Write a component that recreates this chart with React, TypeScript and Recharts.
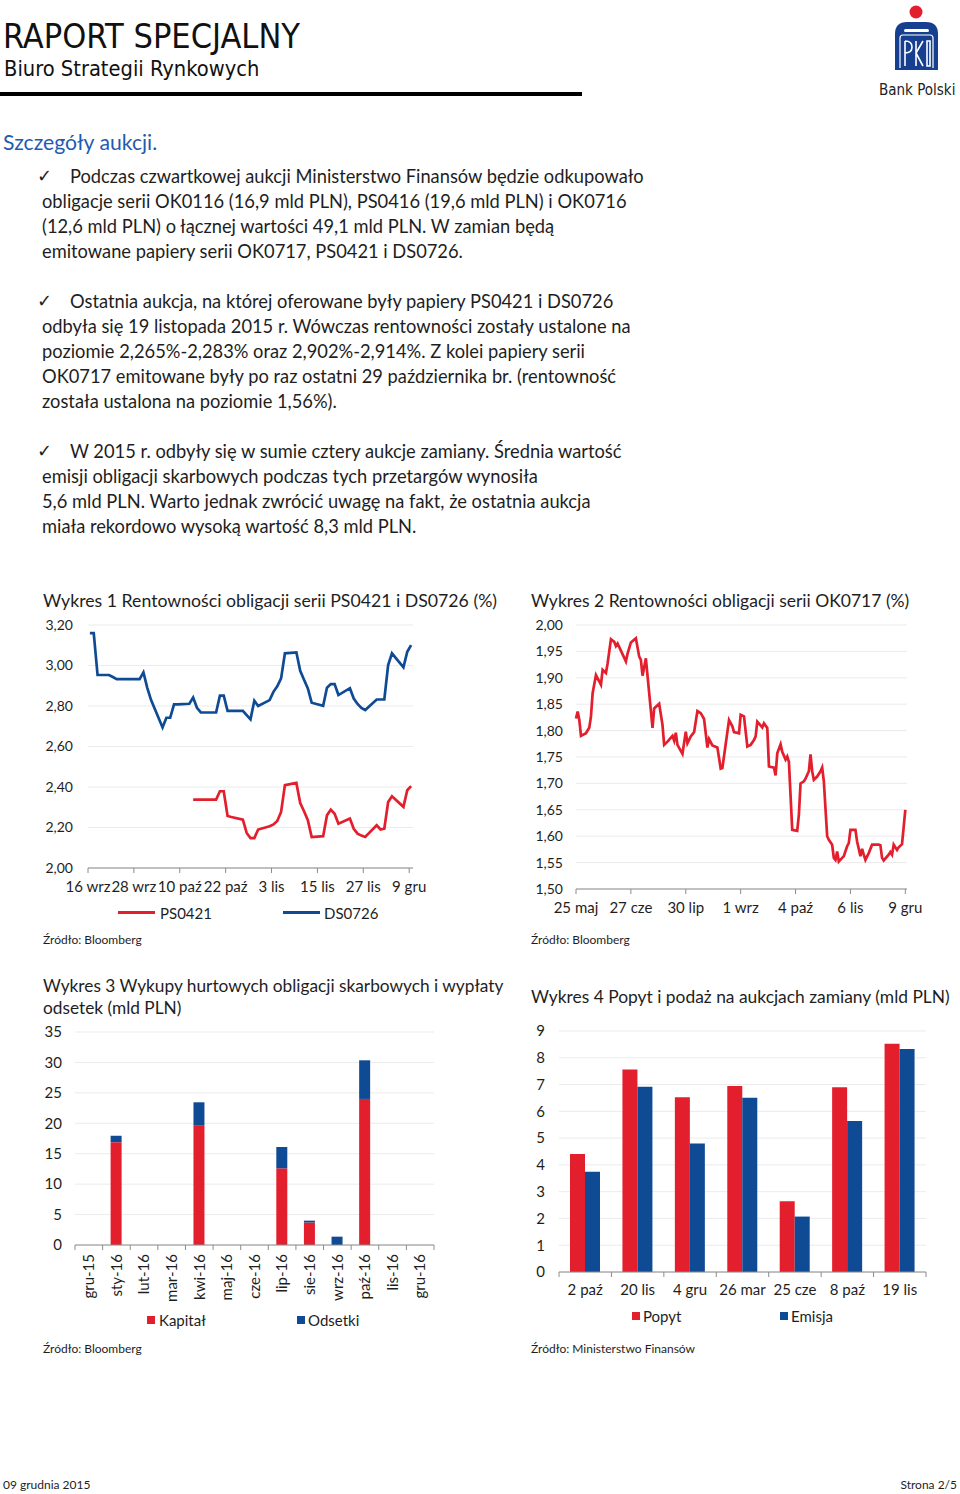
import React from 'react';
import { LineChart, Line, XAxis, YAxis, CartesianGrid, BarChart, Bar } from 'recharts';

const RED = '#e31e2d';
const BLUE = '#0f4b94';
const GRID = '#ebebeb';
const AXIS = '#8c8c8c';
const TXT = '#1e1e1e';
const FONT = 'Lato, "Noto Sans", sans-serif';
const NARROW = '"Liberation Sans Narrow", "DejaVu Sans Condensed", sans-serif';

// ---------- Wykres 1 ----------
const ch1Ticks = [0, 12, 24, 36, 48, 60, 72, 84];
const ch1TickLabels = ['16 wrz', '28 wrz', '10 paź', '22 paź', '3 lis', '15 lis', '27 lis', '9 gru'];
const ch1YTicks = [2.0, 2.2, 2.4, 2.6, 2.8, 3.0, 3.2];
const ch1Days = [0, 1, 2, 5, 6, 7, 8, 9, 12, 13, 14, 15, 16, 19, 20, 21, 22, 23, 26, 27, 28, 29, 30, 33, 34, 35, 36, 37, 40, 41, 42, 43, 44, 47, 48, 49, 50, 51, 54, 55, 56, 57, 58, 61, 62, 63, 64, 65, 68, 69, 70, 71, 72, 75, 76, 77, 78, 79, 82, 83, 84];
const ch1DS0726 = [3.16, 3.16, 2.953, 2.953, 2.943, 2.933, 2.933, 2.933, 2.933, 2.933, 2.966, 2.89, 2.829, 2.694, 2.742, 2.742, 2.808, 2.808, 2.811, 2.842, 2.791, 2.768, 2.768, 2.768, 2.851, 2.851, 2.776, 2.776, 2.776, 2.755, 2.734, 2.826, 2.8, 2.829, 2.87, 2.897, 2.936, 3.06, 3.065, 2.974, 2.93, 2.887, 2.816, 2.801, 2.89, 2.908, 2.908, 2.854, 2.888, 2.837, 2.81, 2.79, 2.78, 2.832, 2.832, 2.832, 3.002, 3.06, 2.991, 3.068, 3.101];
const ch1PS0421 = [null, null, null, null, null, null, null, null, null, null, null, null, null, null, null, null, null, null, null, 2.338, 2.338, 2.338, 2.338, 2.338, 2.379, 2.379, 2.257, 2.252, 2.239, 2.173, 2.148, 2.148, 2.19, 2.206, 2.215, 2.232, 2.277, 2.409, 2.42, 2.321, 2.28, 2.236, 2.153, 2.157, 2.26, 2.288, 2.268, 2.219, 2.244, 2.194, 2.17, 2.16, 2.153, 2.211, 2.19, 2.194, 2.326, 2.354, 2.302, 2.384, 2.404];

// ---------- Wykres 2 ----------
const ch2Ticks = [0, 33, 66, 99, 132, 165, 198];
const ch2TickLabels = ['25 maj', '27 cze', '30 lip', '1 wrz', '4 paź', '6 lis', '9 gru'];
const ch2YTicks = [1.5, 1.55, 1.6, 1.65, 1.7, 1.75, 1.8, 1.85, 1.9, 1.95, 2.0];
const ch2Days = [0, 1, 2, 3, 6, 8, 9, 10, 12, 15, 16, 18, 19, 21, 23, 24, 25, 30, 31, 33, 36, 38, 39, 40, 42, 46, 47, 50, 52, 53, 55, 58, 59, 60, 61, 64, 66, 67, 69, 71, 73, 75, 77, 79, 80, 82, 85, 87, 88, 92, 94, 95, 98, 99, 101, 103, 105, 107, 108, 109, 112, 113, 115, 116, 119, 120, 121, 123, 124, 126, 127, 128, 130, 133, 134, 135, 137, 138, 140, 141, 142, 143, 145, 147, 148, 149, 151, 152, 154, 155, 156, 157, 158, 160, 161, 163, 164, 165, 168, 169, 171, 172, 173, 174, 176, 178, 182, 183, 184, 185, 188, 189, 190, 191, 193, 194, 196, 198];
const ch2OK0717 = [1.823, 1.836, 1.82, 1.79, 1.795, 1.806, 1.827, 1.871, 1.905, 1.887, 1.915, 1.909, 1.927, 1.973, 1.968, 1.96, 1.965, 1.931, 1.946, 1.967, 1.975, 1.94, 1.934, 1.904, 1.937, 1.805, 1.842, 1.851, 1.811, 1.773, 1.779, 1.79, 1.781, 1.796, 1.773, 1.756, 1.798, 1.776, 1.789, 1.797, 1.837, 1.833, 1.822, 1.768, 1.784, 1.772, 1.768, 1.728, 1.729, 1.82, 1.808, 1.797, 1.795, 1.83, 1.827, 1.77, 1.773, 1.782, 1.789, 1.817, 1.806, 1.814, 1.805, 1.732, 1.73, 1.715, 1.757, 1.774, 1.76, 1.745, 1.751, 1.741, 1.612, 1.61, 1.641, 1.7, 1.704, 1.709, 1.723, 1.755, 1.723, 1.707, 1.713, 1.723, 1.73, 1.704, 1.6, 1.593, 1.584, 1.559, 1.555, 1.571, 1.552, 1.559, 1.562, 1.581, 1.587, 1.612, 1.612, 1.59, 1.562, 1.576, 1.565, 1.555, 1.568, 1.584, 1.584, 1.583, 1.559, 1.554, 1.565, 1.57, 1.565, 1.584, 1.574, 1.579, 1.585, 1.65];

// ---------- Wykres 3 ----------
const ch3Months = ['gru-15', 'sty-16', 'lut-16', 'mar-16', 'kwi-16', 'maj-16', 'cze-16', 'lip-16', 'sie-16', 'wrz-16', 'paź-16', 'lis-16', 'gru-16'];
const ch3Kapital = [0, 16.9, 0, 0, 19.6, 0, 0, 12.6, 3.7, 0, 24.0, 0, 0];
const ch3Odsetki = [0, 1.05, 0, 0, 3.85, 0, 0, 3.5, 0.3, 1.37, 6.35, 0, 0];
const ch3YTicks = [0, 5, 10, 15, 20, 25, 30, 35];

// ---------- Wykres 4 ----------
const ch4Auctions = ['2 paź', '20 lis', '4 gru', '26 mar', '25 cze', '8 paź', '19 lis'];
const ch4Popyt = [4.41, 7.56, 6.53, 6.95, 2.64, 6.9, 8.52];
const ch4Emisja = [3.74, 6.92, 4.8, 6.51, 2.07, 5.64, 8.33];
const ch4YTicks = [0, 1, 2, 3, 4, 5, 6, 7, 8, 9];

const ch1Data = ch1Days.map((d, i) => ({ x: d + 0.5, ds: ch1DS0726[i], ps: ch1PS0421[i] }));
const ch2Data = ch2Days.map((d, i) => ({ x: d, v: ch2OK0717[i] }));
const ch3Data = ch3Months.map((m, i) => ({ m, k: ch3Kapital[i], o: ch3Odsetki[i] }));
const ch4Data = ch4Auctions.map((a, i) => ({ a, p: ch4Popyt[i], e: ch4Emisja[i] }));

const fmt2 = (v: number) => v.toFixed(2).replace('.', ',');

const T = ({ x, cy, size, children, color = TXT, family = FONT, weight = 400, right }: any) => (
  <div
    style={{
      position: 'absolute',
      left: right === undefined ? x : undefined,
      right: right !== undefined ? right : undefined,
      top: cy - size * 0.5,
      fontSize: size,
      lineHeight: 1,
      color,
      fontFamily: family,
      fontWeight: weight,
      whiteSpace: 'nowrap',
    }}
  >
    {children}
  </div>
);

const BODY = 18.3;

const Check = ({ cy }: { cy: number }) => (
  <div style={{ position: 'absolute', left: 37, top: cy - 9, fontSize: 18, lineHeight: 1, fontFamily: '"DejaVu Sans", sans-serif', color: TXT }}>✓</div>
);

const BandTick = (props: any) => {
  const { x, y, payload, index, visibleTicksCount, width, rotate } = props;
  const n = visibleTicksCount || 1;
  const band = width ? width / n : 28;
  const lx = x - band / 2;
  const isLast = index === n - 1;
  return (
    <g>
      <line x1={lx} y1={y} x2={lx} y2={y + 5} stroke={AXIS} strokeWidth={1} />
      {isLast && <line x1={x + band / 2} y1={y} x2={x + band / 2} y2={y + 5} stroke={AXIS} strokeWidth={1} />}
      {rotate ? (
        <text transform={`translate(${x},${y + 9}) rotate(-90)`} textAnchor="end" dy="0.35em" fontSize={15} fill={TXT} fontFamily={FONT}>
          {payload.value}
        </text>
      ) : (
        <text x={x} y={y + 18} textAnchor="middle" dy="0.35em" fontSize={15} fill={TXT} fontFamily={FONT}>
          {payload.value}
        </text>
      )}
    </g>
  );
};

const Logo = () => (
  <svg style={{ position: 'absolute', left: 888, top: 2 }} width={58} height={72} viewBox="0 0 58 72">
    <circle cx={28} cy={10} r={6.5} fill={RED} />
    <path d="M7 68 L7 32 Q7 20 19 20 L38 20 Q50 20 50 32 L50 68 Z" fill="#163f8f" />
    <rect x={16} y={27} width={25} height={3} rx={1.5} fill="#fff" />
    <path d="M12 66 L12 36 Q12 33 15 33 L42 33 Q45 33 45 36 L45 66" fill="none" stroke="#fff" strokeWidth={1.2} />
    <path d="M17 64 L17 39 M17 39 Q24 39 24 45 Q24 51 17 51 M28 64 L28 39 M28 51 L35 39 M28 51 L35 64 M39 39 L42 39 L42 64 L39 64 Z" fill="none" stroke="#fff" strokeWidth={1.6} />
  </svg>
);

export default function App() {
  const tickStyle = { fontSize: 15, fill: TXT, fontFamily: FONT };
  const yTickStyle = { fontSize: 14, fill: TXT, fontFamily: FONT };
  return (
    <div style={{ position: 'absolute', left: 0, top: 0, width: 960, height: 1494, background: '#fff', fontFamily: FONT, overflow: 'hidden' }}>
      {/* Header */}
      <T x={3} cy={36} size={34} family={NARROW} color="#111">RAPORT SPECJALNY</T>
      <T x={4} cy={69} size={21.7} family={NARROW} color="#111">Biuro Strategii Rynkowych</T>
      <div style={{ position: 'absolute', left: 0, top: 92, width: 582, height: 4, background: '#000' }} />
      <Logo />
      <T x={879} cy={90} size={15} family={NARROW} color="#222">Bank Polski</T>

      {/* Section */}
      <T x={3} cy={143} size={21.2} color="#1f5bb0">Szczegóły aukcji.</T>

      <Check cy={176} />
      <T x={70} cy={176} size={BODY}>Podczas czwartkowej aukcji Ministerstwo Finansów będzie odkupowało</T>
      <T x={42} cy={201} size={BODY}>obligacje serii OK0116 (16,9 mld PLN), PS0416 (19,6 mld PLN) i OK0716</T>
      <T x={42} cy={226} size={BODY}>(12,6 mld PLN) o łącznej wartości 49,1 mld PLN. W zamian będą</T>
      <T x={42} cy={251} size={BODY}>emitowane papiery serii OK0717, PS0421 i DS0726.</T>

      <Check cy={301} />
      <T x={70} cy={301} size={BODY}>Ostatnia aukcja, na której oferowane były papiery PS0421 i DS0726</T>
      <T x={42} cy={326} size={BODY}>odbyła się 19 listopada 2015 r. Wówczas rentowności zostały ustalone na</T>
      <T x={42} cy={351} size={BODY}>poziomie 2,265%-2,283% oraz 2,902%-2,914%. Z kolei papiery serii</T>
      <T x={42} cy={376} size={BODY}>OK0717 emitowane były po raz ostatni 29 października br. (rentowność</T>
      <T x={42} cy={401} size={BODY}>została ustalona na poziomie 1,56%).</T>

      <Check cy={451} />
      <T x={70} cy={451} size={BODY}>W 2015 r. odbyły się w sumie cztery aukcje zamiany. Średnia wartość</T>
      <T x={42} cy={476} size={BODY}>emisji obligacji skarbowych podczas tych przetargów wynosiła</T>
      <T x={42} cy={501} size={BODY}>5,6 mld PLN. Warto jednak zwrócić uwagę na fakt, że ostatnia aukcja</T>
      <T x={42} cy={526} size={BODY}>miała rekordowo wysoką wartość 8,3 mld PLN.</T>

      {/* Chart 1 */}
      <T x={43} cy={601} size={17.7}>Wykres 1 Rentowności obligacji serii PS0421 i DS0726 (%)</T>
      <div style={{ position: 'absolute', left: 40, top: 615 }}>
        <LineChart width={420} height={300} data={ch1Data} margin={{ top: 10, right: 47, bottom: 17, left: 0 }}>
          <CartesianGrid vertical={false} stroke={GRID} />
          <XAxis
            type="number"
            dataKey="x"
            domain={[0, 85]}
            ticks={ch1Ticks}
            interval={0}
            tickFormatter={(v: number) => ch1TickLabels[ch1Ticks.indexOf(v)] ?? ''}
            stroke={AXIS}
            tickSize={5}
            tickMargin={8}
            tick={tickStyle}
            height={30}
          />
          <YAxis
            type="number"
            domain={[2.0, 3.2]}
            ticks={ch1YTicks}
            tickFormatter={fmt2}
            axisLine={false}
            tickLine={false}
            tickSize={0}
            tickMargin={15}
            width={48}
            tick={yTickStyle}
            interval={0}
          />
          <Line type="linear" dataKey="ps" stroke={RED} strokeWidth={2.7} dot={false} isAnimationActive={false} />
          <Line type="linear" dataKey="ds" stroke={BLUE} strokeWidth={2.7} dot={false} isAnimationActive={false} />
        </LineChart>
      </div>
      <div style={{ position: 'absolute', left: 118, top: 911, width: 37, height: 3, background: RED }} />
      <T x={160} cy={913} size={15}>PS0421</T>
      <div style={{ position: 'absolute', left: 283, top: 911, width: 37, height: 3, background: BLUE }} />
      <T x={324} cy={913} size={15}>DS0726</T>
      <T x={43} cy={940} size={12}>Źródło: Bloomberg</T>

      {/* Chart 2 */}
      <T x={531} cy={601} size={17.5}>Wykres 2 Rentowności obligacji serii OK0717 (%)</T>
      <div style={{ position: 'absolute', left: 530, top: 615 }}>
        <LineChart width={400} height={310} data={ch2Data} margin={{ top: 10, right: 23, bottom: 6, left: 0 }}>
          <CartesianGrid vertical={false} stroke={GRID} />
          <XAxis
            type="number"
            dataKey="x"
            domain={[0, 199]}
            ticks={ch2Ticks}
            interval={0}
            tickFormatter={(v: number) => ch2TickLabels[ch2Ticks.indexOf(v)] ?? ''}
            stroke={AXIS}
            tickSize={5}
            tickMargin={8}
            tick={tickStyle}
            height={30}
          />
          <YAxis
            type="number"
            domain={[1.5, 2.0]}
            ticks={ch2YTicks}
            tickFormatter={fmt2}
            axisLine={false}
            tickLine={false}
            tickSize={0}
            tickMargin={13}
            width={46}
            tick={yTickStyle}
            interval={0}
          />
          <Line type="linear" dataKey="v" stroke={RED} strokeWidth={2.7} dot={false} isAnimationActive={false} />
        </LineChart>
      </div>
      <T x={531} cy={940} size={12}>Źródło: Bloomberg</T>

      {/* Chart 3 */}
      <T x={43} cy={986} size={17.3}>Wykres 3 Wykupy hurtowych obligacji skarbowych i wypłaty</T>
      <T x={43} cy={1008} size={17.3}>odsetek (mld PLN)</T>
      <div style={{ position: 'absolute', left: 40, top: 1020 }}>
        <BarChart width={420} height={300} data={ch3Data} margin={{ top: 12, right: 26, bottom: 15, left: 0 }}>
          <CartesianGrid vertical={false} stroke={GRID} />
          <XAxis
            dataKey="m"
            interval={0}
            stroke={AXIS}
            tickLine={false}
            tickSize={0}
            tickMargin={0}
            height={60}
            tick={<BandTick rotate />}
          />
          <YAxis
            type="number"
            domain={[0, 35]}
            ticks={ch3YTicks}
            axisLine={false}
            tickLine={false}
            tickSize={0}
            tickMargin={13}
            width={35}
            tick={{ fontSize: 15, fill: TXT, fontFamily: FONT }}
            interval={0}
          />
          <Bar dataKey="k" stackId="s" fill={RED} barSize={11} isAnimationActive={false} />
          <Bar dataKey="o" stackId="s" fill={BLUE} barSize={11} isAnimationActive={false} />
        </BarChart>
      </div>
      <div style={{ position: 'absolute', left: 147, top: 1316, width: 8, height: 8, background: RED }} />
      <T x={159} cy={1320} size={15}>Kapitał</T>
      <div style={{ position: 'absolute', left: 297, top: 1316, width: 8, height: 8, background: BLUE }} />
      <T x={308} cy={1320} size={15}>Odsetki</T>
      <T x={43} cy={1349} size={12}>Źródło: Bloomberg</T>

      {/* Chart 4 */}
      <T x={531} cy={997} size={17.4}>Wykres 4 Popyt i podaż na aukcjach zamiany (mld PLN)</T>
      <div style={{ position: 'absolute', left: 530, top: 1020 }}>
        <BarChart width={420} height={290} data={ch4Data} margin={{ top: 11, right: 24, bottom: 8, left: 0 }} barGap={0}>
          <CartesianGrid vertical={false} stroke={GRID} />
          <XAxis
            dataKey="a"
            interval={0}
            stroke={AXIS}
            tickLine={false}
            tickSize={0}
            tickMargin={0}
            height={30}
            tick={<BandTick />}
          />
          <YAxis
            type="number"
            domain={[0, 9]}
            ticks={ch4YTicks}
            axisLine={false}
            tickLine={false}
            tickSize={0}
            tickMargin={14}
            width={29}
            tick={{ fontSize: 15, fill: TXT, fontFamily: FONT }}
            interval={0}
          />
          <Bar dataKey="p" fill={RED} barSize={15} isAnimationActive={false} />
          <Bar dataKey="e" fill={BLUE} barSize={15} isAnimationActive={false} />
        </BarChart>
      </div>
      <div style={{ position: 'absolute', left: 632, top: 1312, width: 8, height: 8, background: RED }} />
      <T x={643} cy={1316} size={15}>Popyt</T>
      <div style={{ position: 'absolute', left: 780, top: 1312, width: 8, height: 8, background: BLUE }} />
      <T x={791} cy={1316} size={15}>Emisja</T>
      <T x={531} cy={1349} size={12}>Źródło: Ministerstwo Finansów</T>

      {/* Footer */}
      <T x={3} cy={1485} size={12}>09 grudnia 2015</T>
      <T right={3} cy={1485} size={12}>Strona 2/5</T>
    </div>
  );
}
